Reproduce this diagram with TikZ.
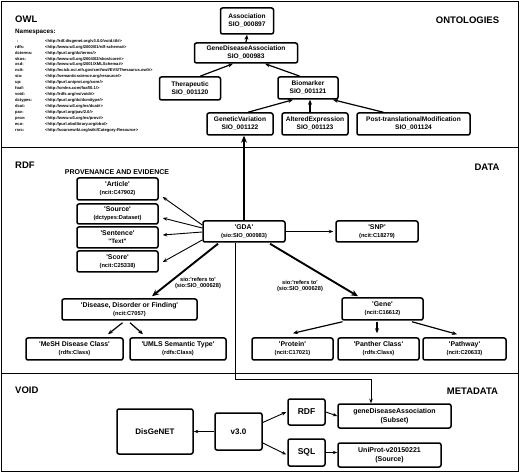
\documentclass[tikz,border=0pt]{standalone}
\usepackage{fontspec}
\setmainfont{Liberation Sans}
\usetikzlibrary{arrows.meta,calc}
\newcommand{\sq}{\textquotesingle}
\newcommand{\dq}{\textquotedbl}
\newcommand{\fsz}[1]{\fontsize{#1}{#1}\selectfont}
\begin{document}
\begin{tikzpicture}[x=1pt,y=-1pt,
  box/.style={draw, rounded corners=2pt, line width=1.5pt, align=center, inner sep=0pt,
    font=\bfseries\fontsize{6.6}{8}\selectfont},
  seclab/.style={inner sep=0pt, font=\bfseries\fontsize{9.5}{11}\selectfont},
  elab/.style={inner sep=0pt, align=center, font=\bfseries\fontsize{5.7}{6.2}\selectfont},
  arrthin/.style={line width=0.9pt, -{Stealth[length=4.5pt,width=3.5pt]}},
  arrmid/.style={line width=1.2pt, -{Stealth[length=5pt,width=4pt]}},
  arrthick/.style={line width=1.9pt, -{Stealth[length=7pt,width=6pt]}},
  sect/.style={line width=1.6pt}
]
\useasboundingbox (0,0) rectangle (520,473);
% sections
\draw[sect] (1.5,1.5) rectangle (518.5,471.5);
\draw[sect] (1.5,147.5) -- (518.5,147.5);
\draw[sect] (1.5,373.5) -- (518.5,373.5);

% ---------- OWL ----------
\node[seclab, anchor=west] (owl) at (15,19) {OWL};
\node[seclab, anchor=west, font=\bfseries\fontsize{6.3}{7}\selectfont] (nsh) at (15,31.5) {Namespaces:};
\node[anchor=north west, inner sep=0pt, align=left, font=\bfseries\fontsize{4.1}{5.95}\selectfont] (ns) at (15,39) {%
\makebox[30pt][l]{\hspace{2pt}:}<http://rdf.disgenet.org/v3.0.0/void.ttl\#>\\
\makebox[30pt][l]{rdfs:}<http://www.w3.org/2000/01/rdf-schema\#>\\
\makebox[30pt][l]{dcterms:}<http://purl.org/dc/terms/>\\
\makebox[30pt][l]{skos:}<http://www.w3.org/2004/02/skos/core\#>\\
\makebox[30pt][l]{xsd:}<http://www.w3.org/2001/XMLSchema\#>\\
\makebox[30pt][l]{ncit:}<http://ncicb.nci.nih.gov/xml/owl/EVS/Thesaurus.owl\#>\\
\makebox[30pt][l]{sio:}<http://semanticscience.org/resource/>\\
\makebox[30pt][l]{up:}<http://purl.uniprot.org/core/>\\
\makebox[30pt][l]{foaf:}<http://xmlns.com/foaf/0.1/>\\
\makebox[30pt][l]{void:}<http://rdfs.org/ns/void\#>\\
\makebox[30pt][l]{dctypes:}<http://purl.org/dc/dcmitype/>\\
\makebox[30pt][l]{dcat:}<http://www.w3.org/ns/dcat\#>\\
\makebox[30pt][l]{pav:}<http://purl.org/pav/2.0/>\\
\makebox[30pt][l]{prov:}<http://www.w3.org/ns/prov\#>\\
\makebox[30pt][l]{eco:}<http://purl.obolibrary.org/obo/>\\
\makebox[30pt][l]{rsrc:}<http://sourcewiki.org/wiki/Category:Resource>};
\node[seclab] (ontol) at (467.5,20) {ONTOLOGIES};

\node[box, minimum width=53pt, minimum height=26pt] (assoc) at (247,21) {Association\\SIO\_000897};
\node[box, minimum width=103pt, minimum height=20pt] (gdao) at (246,53) {GeneDiseaseAssociation\\SIO\_000983};
\node[box, minimum width=61pt, minimum height=23pt] (thera) at (190,88.5) {Therapeutic\\SIO\_001120};
\node[box, minimum width=60pt, minimum height=22pt] (biom) at (308,88) {Biomarker\\SIO\_001121};
\node[box, minimum width=66pt, minimum height=22pt] (genvar) at (240,124) {GeneticVariation\\SIO\_001122};
\node[box, minimum width=66pt, minimum height=22pt] (altexp) at (315,124) {AlteredExpression\\SIO\_001123};
\node[box, minimum width=113pt, minimum height=22pt] (ptm) at (413.5,124) {Post-translationalModification\\SIO\_001124};

\draw[arrmid] (gdao.north) -- (assoc.south);
\draw[arrmid] ($(thera.north)+(10,0)$) -- ($(gdao.south)+(-13,0)$);
\draw[arrmid] ($(biom.north)+(-8,0)$) -- ($(gdao.south)+(19,0)$);
\draw[arrmid] ($(genvar.north)+(8,0)$) -- ($(biom.south)+(-15,0)$);
\draw[arrmid] ($(altexp.north)+(-5,0)$) -- ($(biom.south)+(2,0)$);
\draw[arrmid] ($(ptm.north)+(-30,0)$) -- ($(biom.south)+(25,0)$);

% ---------- RDF ----------
\node[seclab, anchor=west] (rdflab) at (15,165) {RDF};
\node[seclab] (datalab) at (487,167) {DATA};
\node[inner sep=0pt, font=\bfseries\fontsize{7}{8}\selectfont] (prov) at (117,172) {PROVENANCE AND EVIDENCE};

\node[box, minimum width=81pt, minimum height=22pt] (article) at (117.5,189) {{\fsz{6.9}\sq Article\sq}\\{\fsz{5.7}(ncit:C47902)}};
\node[box, minimum width=81pt, minimum height=20pt] (source) at (117.5,214) {{\fsz{6.9}\sq Source\sq}\\{\fsz{5.7}(dctypes:Dataset)}};
\node[box, minimum width=81pt, minimum height=21pt] (sentence) at (117.5,237.5) {{\fsz{6.9}\sq Sentence\sq}\\{\fsz{6.3}\dq Text\dq}};
\node[box, minimum width=81pt, minimum height=21pt] (score) at (117.5,261.5) {{\fsz{6.9}\sq Score\sq}\\{\fsz{5.7}(ncit:C25338)}};

\node[box, minimum width=82pt, minimum height=21pt] (gda) at (244,231.5) {{\fsz{6.9}\sq GDA\sq}\\{\fsz{5.7}(sio:SIO\_000983)}};
\node[box, minimum width=82pt, minimum height=21pt] (snp) at (377,231.5) {{\fsz{6.9}\sq SNP\sq}\\{\fsz{5.7}(ncit:C18279)}};

\node[box, minimum width=135pt, minimum height=21pt] (disease) at (129.5,309.5) {{\fsz{6.9}\sq Disease, Disorder or Finding\sq}\\{\fsz{5.7}(ncit:C7057)}};
\node[box, minimum width=97pt, minimum height=22pt] (mesh) at (74.5,349) {{\fsz{6.9}\sq MeSH Disease Class\sq}\\{\fsz{5.7}(rdfs:Class)}};
\node[box, minimum width=96pt, minimum height=22pt] (umls) at (178,349) {{\fsz{6.9}\sq UMLS Semantic Type\sq}\\{\fsz{5.7}(rdfs:Class)}};

\node[box, minimum width=81pt, minimum height=22pt] (gene) at (382.5,309) {{\fsz{6.9}\sq Gene\sq}\\{\fsz{5.7}(ncit:C16612)}};
\node[box, minimum width=81pt, minimum height=22pt] (protein) at (292.5,349) {{\fsz{6.9}\sq Protein\sq}\\{\fsz{5.7}(ncit:C17021)}};
\node[box, minimum width=81pt, minimum height=22pt] (panther) at (378.5,349) {{\fsz{6.9}\sq Panther Class\sq}\\{\fsz{5.7}(rdfs:Class)}};
\node[box, minimum width=83pt, minimum height=22pt] (pathway) at (464.5,349) {{\fsz{6.9}\sq Pathway\sq}\\{\fsz{5.7}(ncit:C20633)}};

\node[elab] (refl) at (198,283) {sio:\sq refers to\sq\\(sio:SIO\_000628)};
\node[elab] (refr) at (300,286) {sio:\sq refers to\sq\\(sio:SIO\_000628)};

\draw[arrthick] (gda.north) -- (gda.north |- genvar.south);
\draw[arrthin] ($(gda.west)+(0,-6.5)$) -- ($(article.east)+(4,8)$);
\draw[arrthin] ($(gda.west)+(0,-3.5)$) -- ($(source.east)+(4,4)$);
\draw[arrthin] ($(gda.west)+(0,0.5)$) -- ($(sentence.east)+(4,-2.5)$);
\draw[arrthin] ($(gda.west)+(0,8.5)$) -- ($(score.east)+(4,0.5)$);
\draw[arrthin] (gda.east) -- ($(snp.west)+(-2,0)$);
\draw[arrthick] ($(gda.south)+(-26,1)$) -- ($(disease.north)+(22.5,-2)$);
\draw[arrthick] ($(gda.south)+(26,1)$) -- ($(gene.north)+(-24.5,-1)$);
\draw[arrmid] ($(disease.south)+(-7,2)$) -- ($(mesh.north)+(33.5,-3)$);
\draw[arrmid] ($(disease.south)+(0.5,2)$) -- ($(umls.north)+(-35,-3)$);
\draw[arrmid] ($(gene.south)+(-40,1)$) -- ($(protein.north)+(0.5,-4)$);
\draw[arrmid] ($(gene.south)+(-5.5,1)$) -- ($(panther.north)+(-1.5,-4)$);
\draw[arrmid] ($(gene.south)+(29.5,1)$) -- ($(pathway.north)+(-7.5,-3)$);

% ---------- VOID ----------
\node[seclab, anchor=west] (voidlab) at (15,390.5) {VOID};
\node[seclab] (metalab) at (472.5,391.5) {METADATA};

\node[box, minimum width=76pt, minimum height=45pt, font=\bfseries\fontsize{8}{9}\selectfont] (disgenet) at (155,431.5) {DisGeNET};
\node[box, minimum width=47pt, minimum height=37pt, font=\bfseries\fontsize{8}{9}\selectfont] (v30) at (238.5,431.5) {v3.0};
\node[box, minimum width=37pt, minimum height=26pt, font=\bfseries\fontsize{8.5}{9}\selectfont] (rdfb) at (306.5,412) {RDF};
\node[box, minimum width=37pt, minimum height=27pt, font=\bfseries\fontsize{8.5}{9}\selectfont] (sqlb) at (306.5,452.5) {SQL};
\node[box, minimum width=113pt, minimum height=24pt, font=\bfseries\fontsize{7}{8.5}\selectfont] (gdasub) at (394.5,416) {geneDiseaseAssociation\\(Subset)};
\node[box, minimum width=103pt, minimum height=24pt, font=\bfseries\fontsize{7}{8.5}\selectfont] (uniprot) at (389.5,455) {UniProt-v20150221\\(Source)};

\draw[arrthin] ($(gda.south)+(-9,0)$) -- ++(0,137) -| ($(gdasub.north)+(-23.5,0)$);
\draw[arrthin] (v30.west) -- (disgenet.east);
\draw[arrthin] ($(v30.east)+(0,-9)$) -- ($(rdfb.west)+(-1,0)$);
\draw[arrthin] ($(v30.east)+(0,11.5)$) -- ($(sqlb.west)+(-1,2)$);
\draw[arrthin] (rdfb.east) -- (gdasub.west);
\draw[arrthin] (sqlb.east) -- (sqlb.east -| uniprot.west);
\end{tikzpicture}
\end{document}
